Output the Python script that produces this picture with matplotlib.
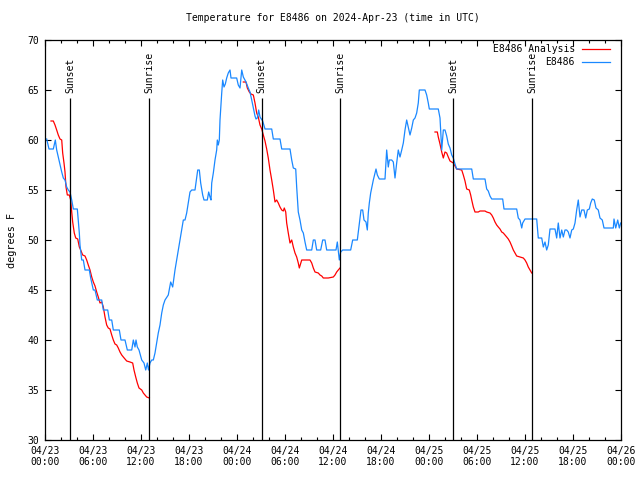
import pandas as pd
import matplotlib
matplotlib.use('Agg')
import matplotlib.pyplot as plt
import matplotlib.dates as mdates

# observed temperature (hours after 2024-04-23 00:00 UTC, deg F)
obs_hours = [0.21, 0.5, 1.04, 1.29, 1.46, 1.66, 1.875, 2.09, 2.29, 2.5, 2.71, 2.91, 3.125, 3.34, 3.54, 4.04,
             4.16, 4.29, 4.375, 4.59, 4.79, 5.0, 5.54, 5.71, 6.04, 6.25, 6.54, 7.09, 7.29, 7.84, 8.04, 8.34,
             8.54, 9.29, 9.5, 10.0, 10.29, 10.84, 11.04, 11.25, 11.375, 11.54, 11.75, 12.09, 12.375, 12.59,
             12.79, 12.94, 13.125, 13.34, 13.54, 13.75, 13.96, 14.16, 14.375, 14.59, 14.79, 15.0, 15.41,
             15.71, 15.96, 16.25, 16.46, 16.66, 16.875, 17.09, 17.29, 17.5, 17.71, 17.91, 18.125, 18.34,
             18.75, 18.96, 19.09, 19.29, 19.46, 19.71, 19.875, 20.29, 20.46, 20.625, 20.75, 20.84, 21.04,
             21.25, 21.46, 21.54, 21.66, 21.79, 21.875, 22.09, 22.21, 22.375, 22.54, 22.71, 22.91, 23.125,
             23.25, 23.96, 24.16, 24.375, 24.59, 24.79, 25.125, 25.41, 25.625, 25.84, 26.04, 26.25, 26.375,
             26.54, 26.71, 26.875, 27.21, 27.5, 28.34, 28.54, 29.375, 29.59, 30.625, 30.84, 31.04, 31.34,
             31.46, 31.66, 31.875, 32.09, 32.29, 32.5, 32.71, 33.34, 33.54, 33.75, 33.96, 34.46, 34.71,
             35.0, 35.21, 36.375, 36.54, 36.79, 36.96, 37.21, 38.21, 38.46, 39.04, 39.16, 39.29, 39.5,
             39.71, 39.875, 40.125, 40.29, 40.41, 40.54, 40.71, 40.84, 41.04, 41.375, 41.54, 41.79, 42.5,
             42.71, 42.91, 43.04, 43.34, 43.54, 43.75, 43.96, 44.16, 44.375, 44.59, 44.79, 45.0, 45.21,
             45.41, 45.625, 45.84, 46.04, 46.25, 46.46, 46.66, 46.79, 47.5, 47.71, 47.91, 48.04, 49.16,
             49.375, 49.46, 49.59, 49.79, 50.0, 50.21, 50.41, 50.625, 50.84, 51.04, 51.25, 51.46, 53.34,
             53.54, 55.0, 55.21, 55.41, 55.625, 55.84, 57.21, 57.375, 58.96, 59.16, 59.375, 59.59, 59.71,
             60.0, 61.46, 61.66, 62.09, 62.29, 62.5, 62.71, 62.91, 63.125, 63.75, 63.96, 64.16, 64.375,
             64.59, 64.79, 65.0, 65.21, 65.41, 65.625, 65.84, 66.04, 66.25, 66.46, 66.66, 66.875, 67.09,
             67.375, 67.59, 67.79, 68.04, 68.21, 68.41, 68.66, 68.875, 69.16, 69.375, 69.66, 69.875,
             71.04, 71.125, 71.34, 71.59, 71.79, 71.96]
obs_temp = [60.1, 59.1, 59.1, 60.0, 59.0, 58.3, 57.5, 56.8, 56.2, 56.0, 55.3, 55.0, 54.8, 54.0, 53.1, 53.1,
            52.0, 50.7, 49.5, 48.0, 48.0, 47.0, 47.0, 46.2, 45.0, 45.0, 44.0, 44.0, 43.0, 43.0, 42.0, 42.0,
            41.0, 41.0, 40.0, 40.0, 39.0, 39.0, 40.0, 39.3, 40.0, 39.3, 39.0, 38.0, 37.7, 37.0,
            37.7, 37.0, 37.7, 38.0, 38.0, 38.7, 39.7, 40.7, 41.5, 42.7, 43.5, 44.0, 44.5,
            45.8, 45.3, 47.0, 48.0, 49.0, 50.0, 51.0, 52.0, 52.0, 52.7, 53.7, 54.8, 55.0,
            55.0, 56.2, 57.0, 57.0, 55.7, 54.5, 54.0, 54.0, 54.8, 54.3, 54.0, 55.7, 56.7,
            58.0, 59.0, 60.0, 59.5, 60.0, 62.0, 64.7, 66.0, 65.3, 65.6, 66.2, 66.7, 67.0,
            66.2, 66.2, 65.5, 65.2, 67.0, 66.3, 65.8, 65.2, 64.8, 64.0, 63.2, 62.4, 62.1,
            62.2, 63.0, 62.3, 61.9, 61.1, 61.1, 60.1, 60.1, 59.1, 59.1, 58.0, 57.2, 57.1,
            55.3, 52.8, 52.0, 51.0, 50.7, 49.8, 49.0, 49.0, 50.0, 50.0, 49.0, 49.0, 50.0,
            50.0, 49.0, 49.0, 49.8, 48.0, 48.8, 49.0, 49.0, 50.0, 50.0, 50.8, 51.7, 53.0,
            53.0, 52.0, 51.8, 51.0, 52.7, 53.7, 54.7, 55.2, 56.0, 57.1, 56.5, 56.1, 56.1,
            59.0, 57.3, 58.0, 58.0, 57.8, 56.2, 57.7, 59.0, 58.3, 59.0, 59.7, 61.0, 62.0,
            61.3, 60.5, 61.2, 62.0, 62.2, 62.7, 63.7, 65.0, 65.0, 64.5, 63.7, 63.1, 63.1,
            62.2, 61.0, 59.0, 61.0, 61.0, 60.4, 59.6, 59.2, 58.5, 58.2, 57.6, 57.1, 57.1,
            56.1, 56.1, 55.1, 54.9, 54.4, 54.1, 54.1, 53.1, 53.1, 52.2, 52.0, 51.2, 51.7,
            52.1, 52.1, 50.2, 50.2, 49.3, 49.8, 49.0, 49.5, 51.1, 51.1, 50.2, 51.7, 50.2,
            51.0, 50.3, 51.0, 51.0, 50.8, 50.2, 51.0, 51.1, 51.7, 53.0, 54.0, 52.3, 53.0,
            53.0, 52.2, 53.0, 53.1, 53.7, 54.1, 54.0, 53.2, 53.0, 52.2, 52.0, 51.2,
            51.2, 52.1, 51.2, 52.0, 51.2, 51.7]

# analysis temperature, three overnight segments
ana1_hours = [0.75, 1.04, 1.25, 1.46, 1.66, 1.875, 2.09, 2.21, 2.375, 2.5, 2.625, 2.79, 3.04, 3.21, 3.34,
              3.46, 3.66, 3.84, 4.09, 4.29, 4.46, 4.71, 5.0, 5.21, 5.41, 5.625, 5.84, 6.04, 6.25, 6.46,
              6.66, 6.875, 7.09, 7.29, 7.5, 7.71, 7.91, 8.125, 8.34, 8.54, 8.75, 8.96, 9.16, 9.375, 9.59,
              9.79, 10.0, 10.21, 10.625, 10.96, 11.125, 11.34, 11.54, 11.75, 12.09, 12.29, 12.5, 12.71, 13.04]
ana1_temp = [61.9, 61.9, 61.5, 61.0, 60.5, 60.1, 60.0, 58.7, 57.7, 56.8, 55.3, 54.5, 54.5, 54.0, 52.8,
             51.8, 50.7, 50.2, 50.1, 49.3, 49.0, 48.5, 48.4, 48.0, 47.5, 47.0, 46.3, 45.8, 45.4, 44.8,
             44.3, 43.7, 43.8, 43.3, 42.3, 41.5, 41.2, 41.1, 40.5, 40.0, 39.6, 39.5, 39.2, 38.8, 38.5,
             38.3, 38.1, 37.9, 37.8, 37.7, 37.0, 36.3, 35.7, 35.2, 35.0, 34.7, 34.5, 34.3, 34.2]
ana2_hours = [24.79, 25.125, 25.29, 25.54, 25.75, 26.04, 26.25, 26.46, 26.66, 26.875, 27.09, 27.29, 27.5,
              27.71, 27.91, 28.125, 28.34, 28.54, 28.75, 28.96, 29.16, 29.375, 29.59, 29.79, 29.91, 30.09,
              30.21, 30.41, 30.625, 30.84, 31.04, 31.25, 31.46, 31.66, 31.79, 32.09, 32.91, 33.125, 33.34,
              33.54, 33.75, 34.16, 34.375, 34.59, 34.79, 35.41, 36.04, 36.25, 36.46, 36.66, 36.875]
ana2_temp = [65.8, 65.8, 65.2, 64.8, 64.6, 64.5, 63.7, 62.7, 62.3, 61.5, 61.1, 60.5, 59.9,
             59.1, 58.2, 57.0, 56.0, 55.0, 53.8, 54.0, 53.7, 53.3, 53.0, 52.9, 53.2, 52.8,
             51.7, 50.7, 49.7, 50.0, 49.3, 48.7, 48.3, 47.7, 47.2, 48.0, 48.0, 48.0, 47.7,
             47.2, 46.8, 46.7, 46.5, 46.4, 46.2, 46.2, 46.3, 46.5, 46.8, 47.0, 47.2]
ana3_hours = [48.75, 49.04, 49.16, 49.375, 49.59, 49.79, 50.0, 50.21, 50.41, 50.625, 51.04, 51.46, 52.09,
              52.29, 52.5, 52.71, 53.04, 53.21, 53.34, 53.54, 53.75, 54.16, 54.375, 55.0, 55.21, 55.625,
              55.84, 56.04, 56.25, 56.46, 56.66, 56.875, 57.09, 57.29, 57.5, 57.71, 57.91, 58.125, 58.34,
              58.54, 58.75, 58.96, 59.375, 59.79, 60.0, 60.21, 60.41, 60.625, 60.84]
ana3_temp = [60.8, 60.8, 60.3, 59.6, 58.8, 58.2, 58.8, 58.7, 58.3, 57.9, 57.7, 57.1, 57.0,
             56.5, 55.9, 55.1, 55.0, 54.5, 54.0, 53.3, 52.8, 52.8, 52.9, 52.9, 52.8, 52.7,
             52.5, 52.2, 51.8, 51.5, 51.3, 51.1, 50.8, 50.7, 50.5, 50.3, 50.1, 49.8, 49.4,
             49.0, 48.7, 48.4, 48.3, 48.2, 48.0, 47.7, 47.3, 47.0, 46.7]

sun_hours = [3.16, 13.04, 27.08, 36.9, 51.04, 60.9]
sun_labels = ['Sunset', 'Sunrise', 'Sunset', 'Sunrise', 'Sunset', 'Sunrise']

base = pd.Timestamp('2024-04-23 00:00')
def to_time(h):
    return base + pd.to_timedelta(h, unit='h')

plt.rcParams['font.family'] = 'DejaVu Sans Mono'
plt.rcParams['font.size'] = 7

fig = plt.figure(figsize=(6.4, 4.8), dpi=100)
ax = fig.add_axes([45/640, 40/480, 576/640, 400/480])

red = '#ff0000'
blue = '#1a88ff'
for hh, tt in [(ana1_hours, ana1_temp), (ana2_hours, ana2_temp), (ana3_hours, ana3_temp)]:
    ax.plot(to_time(hh), tt, color=red, lw=0.9)
ax.plot(to_time(obs_hours), obs_temp, color=blue, lw=0.9)

for h, lab in zip(sun_hours, sun_labels):
    t = to_time(h)
    ax.vlines(t, 30, 64.2, color='black', lw=0.9)
    ax.text(t, 64.7, lab, rotation=90, ha='center', va='bottom', fontsize=7)

ax.set_xlim(to_time(0), to_time(72))
ax.set_ylim(30, 70)
ax.set_yticks(range(30, 71, 5))
ax.xaxis.set_major_locator(mdates.HourLocator(byhour=range(0, 24, 6)))
ax.xaxis.set_minor_locator(mdates.HourLocator(byhour=range(0, 24, 2)))
ax.xaxis.set_major_formatter(mdates.DateFormatter('%m/%d\n%H:%M'))
ax.tick_params(which='both', direction='in', top=True, right=True, width=0.8, pad=4)
ax.tick_params(which='major', length=4)
ax.tick_params(which='minor', length=2)
for s in ax.spines.values():
    s.set_linewidth(0.9)

ax.set_title('Temperature for E8486 on 2024-Apr-23 (time in UTC)', fontsize=7, pad=14)
ax.set_ylabel('degrees F', fontsize=7.3, labelpad=8)

# key in the top right corner
ax.text(0.920, 0.9775, 'E8486 Analysis', transform=ax.transAxes, ha='right', va='center')
ax.plot([0.932, 0.981], [0.9775, 0.9775], transform=ax.transAxes, color=red, lw=0.9)
ax.text(0.920, 0.945, 'E8486', transform=ax.transAxes, ha='right', va='center')
ax.plot([0.932, 0.981], [0.945, 0.945], transform=ax.transAxes, color=blue, lw=0.9)

fig.savefig('out.png', dpi=100)
